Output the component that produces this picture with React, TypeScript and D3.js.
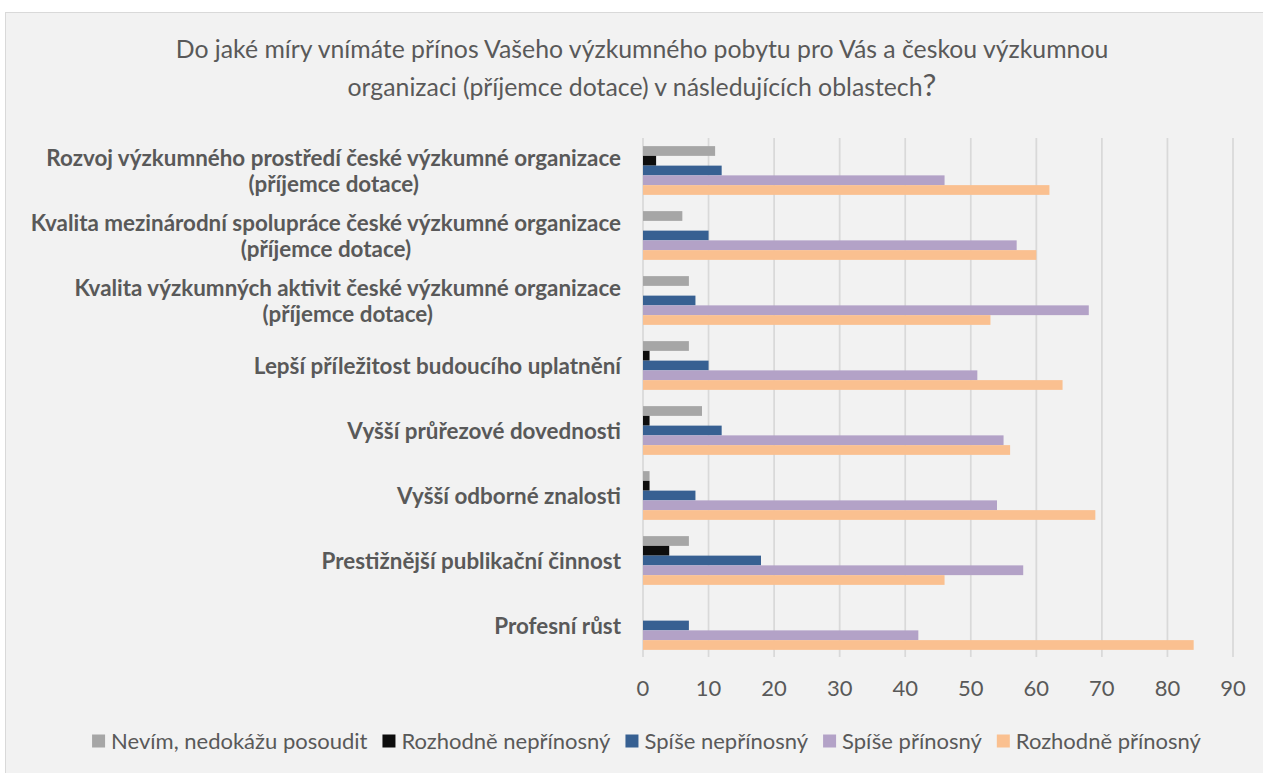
import React, { useEffect, useRef } from "react";
import * as d3 from "d3";

const categories: string[][] = [
  ["Rozvoj výzkumného prostředí české výzkumné organizace", "(příjemce dotace)"],
  ["Kvalita mezinárodní spolupráce české výzkumné organizace", "(příjemce dotace)"],
  ["Kvalita výzkumných aktivit české výzkumné organizace", "(příjemce dotace)"],
  ["Lepší příležitost budoucího uplatnění"],
  ["Vyšší průřezové dovednosti"],
  ["Vyšší odborné znalosti"],
  ["Prestižnější publikační činnost"],
  ["Profesní růst"],
];

const seriesNames = [
  "Nevím, nedokážu posoudit",
  "Rozhodně nepřínosný",
  "Spíše nepřínosný",
  "Spíše přínosný",
  "Rozhodně přínosný",
];

const nevim = [11, 6, 7, 7, 9, 1, 7, 0];
const rozhodneNepri = [2, 0, 0, 1, 1, 1, 4, 0];
const spiseNepri = [12, 10, 8, 10, 12, 8, 18, 7];
const spisePri = [46, 57, 68, 51, 55, 54, 58, 42];
const rozhodnePri = [62, 60, 53, 64, 56, 69, 46, 84];

const seriesValues = [nevim, rozhodneNepri, spiseNepri, spisePri, rozhodnePri];
const seriesColors = ["#a6a6a6", "#0d0d0d", "#376092", "#b3a2c7", "#fac090"];

const xTicks = [0, 10, 20, 30, 40, 50, 60, 70, 80, 90];

const titleLines = [
  "Do jaké míry vnímáte přínos Vašeho výzkumného pobytu pro Vás a českou výzkumnou",
  "organizaci (příjemce dotace) v následujících oblastech",
];

const W = 1263;
const H = 773;
const FONT = "Lato, 'Open Sans', sans-serif";
const TEXT = "#595959";

export default function App() {
  const ref = useRef<SVGSVGElement | null>(null);

  useEffect(() => {
    const svg = d3.select(ref.current);
    svg.selectAll("*").remove();

    svg
      .append("rect")
      .attr("x", 5.5)
      .attr("y", 12.5)
      .attr("width", W)
      .attr("height", H)
      .attr("fill", "#f2f2f2")
      .attr("stroke", "#d9d9d9")
      .attr("stroke-width", 1);

    const x = d3.scaleLinear().domain([0, 90]).range([643, 1233]);
    const y = d3
      .scaleBand<number>()
      .domain(d3.range(categories.length))
      .range([138, 658])
      .paddingInner(0.25)
      .paddingOuter(0.125);
    const inner = d3
      .scaleBand<number>()
      .domain(d3.range(seriesNames.length))
      .range([0, y.bandwidth()]);

    // Title
    const title = svg
      .append("g")
      .attr("font-family", FONT)
      .attr("fill", TEXT)
      .attr("text-anchor", "middle");
    title
      .append("text")
      .attr("x", 642)
      .attr("y", 58)
      .attr("font-size", 24.8)
      .text(titleLines[0]);
    const t2 = title.append("text").attr("x", 642).attr("y", 96).attr("font-size", 24.8);
    t2.append("tspan").text(titleLines[1]);
    t2.append("tspan").attr("font-size", 31).text("?");

    // Grid
    svg
      .append("g")
      .selectAll("line")
      .data(xTicks)
      .join("line")
      .attr("x1", (d) => x(d))
      .attr("x2", (d) => x(d))
      .attr("y1", 138)
      .attr("y2", 657)
      .attr("stroke", "#d9d9d9")
      .attr("stroke-width", 1.75);

    // Bars
    const groups = svg
      .append("g")
      .selectAll("g")
      .data(categories.map((_, i) => i))
      .join("g")
      .attr("transform", (i) => `translate(0,${y(i)})`);

    groups
      .selectAll("rect")
      .data((i) =>
        seriesValues
          .map((vals, s) => ({ s, v: vals[i] }))
          .filter((d) => d.v > 0)
      )
      .join("rect")
      .attr("x", x(0))
      .attr("y", (d) => inner(d.s) as number)
      .attr("width", (d) => x(d.v) - x(0))
      .attr("height", inner.bandwidth())
      .attr("fill", (d) => seriesColors[d.s]);

    // Category labels
    const labels = svg
      .append("g")
      .attr("font-family", FONT)
      .attr("font-weight", "bold")
      .attr("font-size", 22.4)
      .attr("fill", TEXT)
      .attr("text-anchor", "end");
    categories.forEach((lines, i) => {
      const cy = (y(i) as number) + y.bandwidth() / 2;
      const lh = 26;
      lines.forEach((line, k) => {
        const off = (k - (lines.length - 1) / 2) * lh;
        labels
          .append("text")
          .attr("y", cy + off)
          .attr("dy", "0.36em")
          .text(line)
          .attr("text-anchor", lines.length > 1 && k > 0 ? "middle" : "end")
          .attr("x", lines.length > 1 && k > 0 ? 0 : 621);
      });
    });
    labels.selectAll<SVGTextElement, unknown>("text").each(function () {
      const el = this as SVGTextElement;
      if (el.getAttribute("text-anchor") === "middle") {
        const prev = el.previousElementSibling as SVGTextElement;
        const w = prev.getComputedTextLength();
        el.setAttribute("x", String(621 - w / 2));
      }
    });

    // X tick labels
    svg
      .append("g")
      .attr("font-family", FONT)
      .attr("font-size", 22)
      .attr("fill", TEXT)
      .attr("text-anchor", "middle")
      .selectAll("text")
      .data(xTicks)
      .join("text")
      .attr("x", (d) => x(d))
      .attr("y", 688)
      .attr("dy", "0.36em")
      .text((d) => d3.format("d")(d));

    // Legend
    const leg = svg
      .append("g")
      .attr("font-family", FONT)
      .attr("font-size", 22)
      .attr("fill", TEXT);
    const sq = 13;
    const gapIn = 6;
    const gapOut = 15;
    const items = seriesNames.map((name, s) => {
      const g = leg.append("g");
      g.append("rect")
        .attr("width", sq)
        .attr("height", sq)
        .attr("y", 741 - sq / 2)
        .attr("fill", seriesColors[s]);
      const t = g
        .append("text")
        .attr("x", sq + gapIn)
        .attr("y", 741)
        .attr("dy", "0.36em")
        .text(name);
      const w = (t.node() as SVGTextElement).getComputedTextLength();
      return { g, w: sq + gapIn + w };
    });
    const total = d3.sum(items, (d) => d.w) + gapOut * (items.length - 1);
    let cx = 646.5 - total / 2;
    items.forEach((it) => {
      it.g.attr("transform", `translate(${cx},0)`);
      cx += it.w + gapOut;
    });
  }, []);

  return (
    <svg
      ref={ref}
      width={W}
      height={H}
      style={{ position: "absolute", left: 0, top: 0, background: "#ffffff" }}
    />
  );
}
